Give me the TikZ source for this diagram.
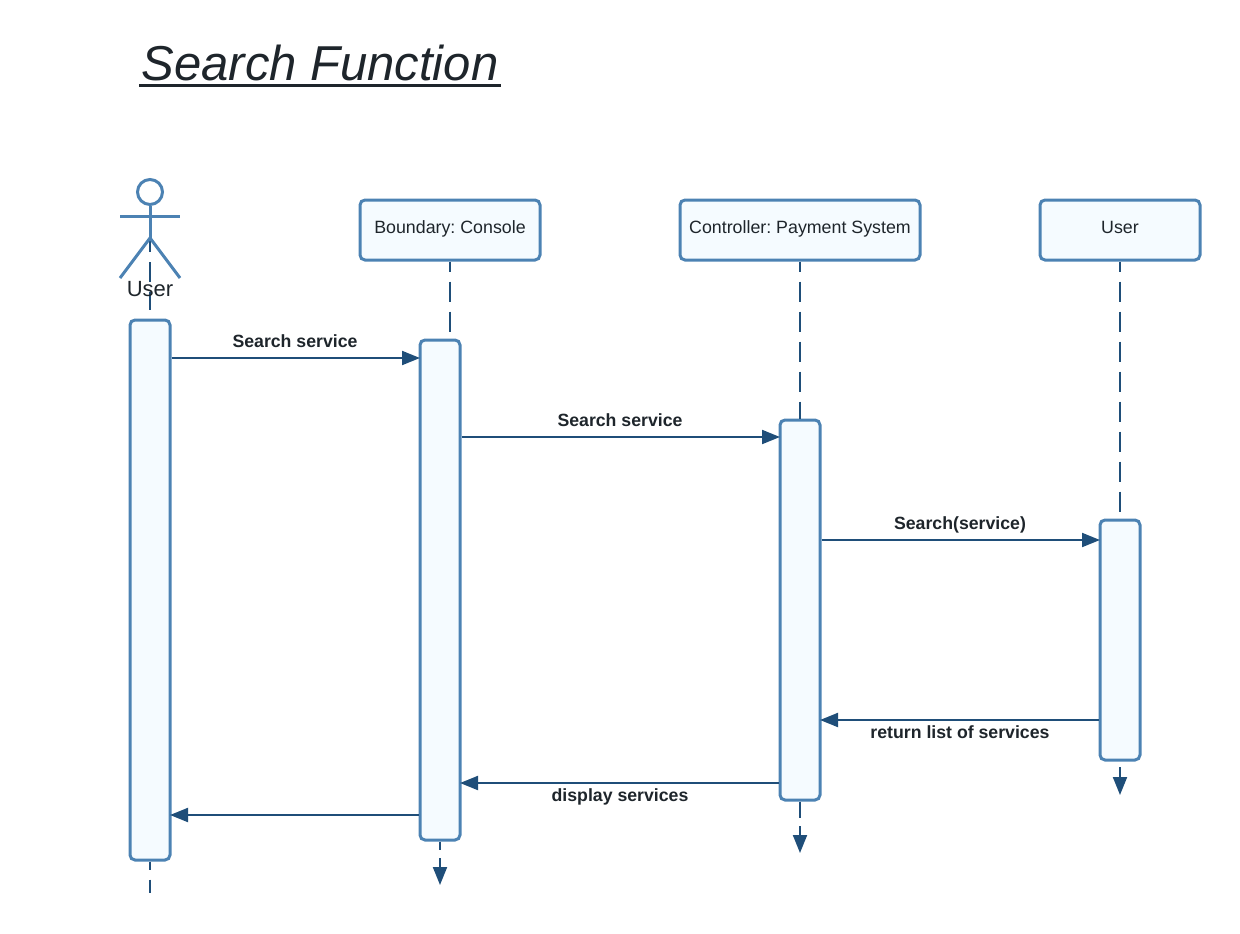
\documentclass[tikz,border=0pt]{standalone}
\usepackage{fontspec}
\setmainfont{Liberation Sans}
\usetikzlibrary{arrows.meta}
\definecolor{boxline}{HTML}{4C82B3}
\definecolor{boxfill}{HTML}{F5FBFF}
\definecolor{wire}{HTML}{1F4E79}
\definecolor{ink}{HTML}{1E252B}
\frenchspacing
\tikzset{
  x=1pt,y=-1pt,
  head/.style={draw=boxline,fill=boxfill,line width=3pt,rounded corners=5pt,minimum width=#1,minimum height=60pt,inner sep=0pt},
  bar/.style={draw=boxline,fill=boxfill,line width=3pt,rounded corners=5pt,minimum width=40pt,minimum height=#1,inner sep=0pt},
  headtxt/.style={inner sep=0pt,anchor=base,text=ink,font=\fontsize{17.8}{20}\selectfont},
  lifedash/.style={draw=wire,line width=2pt,dash pattern=on 20pt off 10pt},
  msg/.style={draw=wire,line width=2pt,shorten >=-1.5pt,-{Stealth[length=18pt,width=14pt,inset=0pt]}},
  endline/.style={draw=wire,line width=2pt,-{Stealth[length=18pt,width=14pt,inset=0pt]}},
  lab/.style={inner sep=0pt,anchor=base,text=ink,font=\fontsize{17.7}{20}\selectfont\bfseries},
  stick/.style={draw=boxline,line width=3pt}
}
\begin{document}
\begin{tikzpicture}
\useasboundingbox (0,0) rectangle (1240,934);
% title
\node[inner sep=0pt,text=ink,anchor=base,font=\fontsize{49}{56}\selectfont\itshape] (title) at (320,80.5) {Search Function};
\draw[ink,line width=3.5pt] (139,85.5) -- (501,85.5);
% head nodes
\node[head=180pt] (console) at (450,230) {};
\node[head=240pt] (pay) at (800,230) {};
\node[head=160pt] (usr) at (1120,230) {};
\node[headtxt] (consoletxt) at (450,233) {Boundary: Console};
\node[headtxt] (paytxt) at (800,233) {Controller: Payment System};
\node[headtxt] (usrtxt) at (1120,233) {User};
% activation bars
\node[bar=540pt] (a1) at (150,590) {};
\node[bar=500pt] (a2) at (440,590) {};
\node[bar=380pt] (a3) at (800,610) {};
\node[bar=240pt] (a4) at (1120,640) {};
% lifelines
\coordinate (u0) at (150,240);
\coordinate (u1) at (150,310);
\draw[lifedash,dash phase=8pt] (u0) -- (u1);
\coordinate (c1) at (450,333);
\draw[lifedash,dash phase=10pt] (console.south) -- (c1);
\draw[lifedash,dash phase=10pt] (pay.south) -- (a3.north);
\coordinate (r1) at (1120,515);
\draw[lifedash,dash phase=10pt] (usr.south) -- (r1);
% tails
\coordinate (t1) at (150,893);
\draw[lifedash,dash phase=12pt] (a1.south) -- (t1);
\coordinate (t2) at (440,885);
\coordinate (t2a) at (440,858);
\draw[lifedash,dash phase=12pt] (a2.south) -- (t2a);
\draw[endline] (t2a) -- (t2);
\coordinate (t3) at (800,853);
\coordinate (t3a) at (800,826);
\draw[lifedash,dash phase=4pt] (a3.south) -- (t3a);
\draw[endline] (t3a) -- (t3);
\coordinate (t4) at (1120,795);
\coordinate (t4a) at (1120,767);
\draw[endline] (t4a) -- (t4);
% stick figure
\node[circle,stick,fill=white,minimum size=25pt,inner sep=0pt] (headc) at (150,192) {};
\coordinate (neck) at (150,238);
\coordinate (armL) at (120,216);
\coordinate (armR) at (180,216);
\coordinate (legL) at (120,278);
\coordinate (legR) at (180,278);
\draw[stick] (headc.south) -- (neck);
\draw[stick] (armL) -- (armR);
\draw[stick] (legL) -- (neck) -- (legR);
\node[inner sep=0pt,anchor=base,text=ink,font=\fontsize{22}{24}\selectfont] (ulab) at (150,296) {User};
% messages
\draw[msg] (a1.east |- 0,358) -- (a2.west |- 0,358);
\draw[msg] (a2.east |- 0,437) -- (a3.west |- 0,437);
\draw[msg] (a3.east |- 0,540) -- (a4.west |- 0,540);
\draw[msg] (a4.west |- 0,720) -- (a3.east |- 0,720);
\draw[msg] (a3.west |- 0,783) -- (a2.east |- 0,783);
\draw[msg] (a2.west |- 0,815) -- (a1.east |- 0,815);
% labels
\node[lab] (m1) at (295,347) {Search service};
\node[lab] (m2) at (620,426) {Search service};
\node[lab] (m3) at (960,529) {Search(service)};
\node[lab] (m4) at (960,738) {return list of services};
\node[lab] (m5) at (620,801) {display services};
\end{tikzpicture}
\end{document}
